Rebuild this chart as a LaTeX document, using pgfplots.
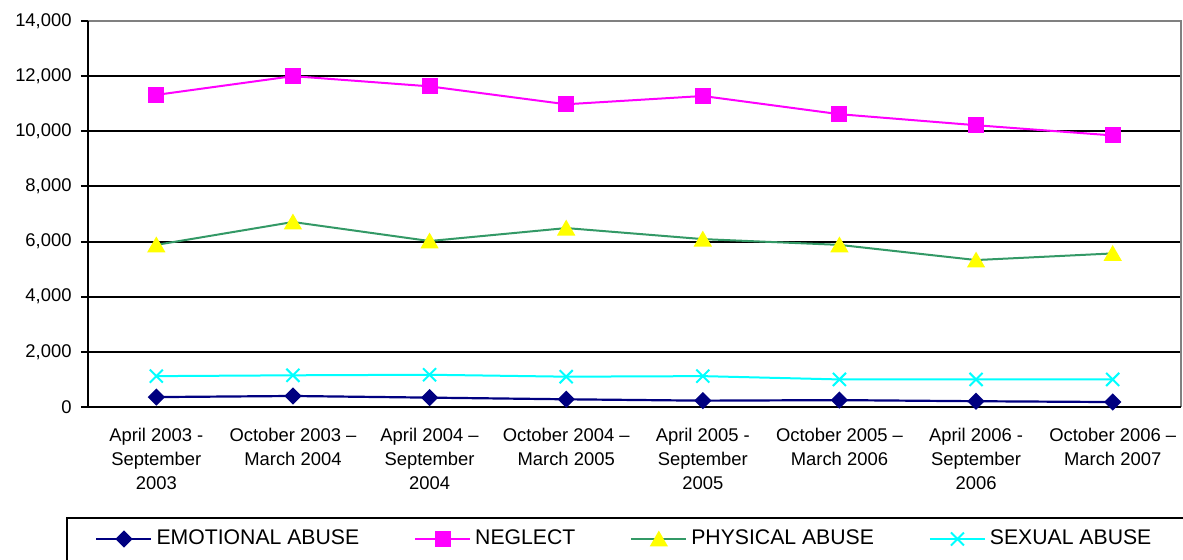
\documentclass[border=0pt]{standalone}
\usepackage{fontspec}
\setmainfont{Liberation Sans}
\usepackage{pgfplots}
\pgfplotsset{compat=1.18}
\definecolor{navyc}{RGB}{0,0,128}
\definecolor{greenc}{RGB}{51,153,102}
\definecolor{graybd}{RGB}{128,128,128}
\definecolor{magc}{RGB}{255,0,255}
\definecolor{cyanc}{RGB}{0,255,255}
\definecolor{yellowc}{RGB}{255,255,0}
\begin{document}
\begin{tikzpicture}
\begin{axis}[
  at={(0pt,0pt)}, anchor=south west,
  width=546.5pt, height=193pt, scale only axis,
  clip=false,
  xmin=-0.5, xmax=7.5, ymin=0, ymax=14000,
  xtick={0,1,2,3,4,5,6,7},
  xticklabels={{April 2003 -\\September\\2003},{October 2003 –\\March 2004},{April 2004 –\\September\\2004},{October 2004 –\\March 2005},{April 2005 -\\September\\2005},{October 2005 –\\March 2006},{April 2006 -\\September\\2006},{October 2006 –\\March 2007}},
  xticklabel style={align=center, font=\fontsize{9.2}{12}\selectfont, yshift=-3.5pt},
  minor xtick={-0.5,0.5,1.5,2.5,3.5,4.5,5.5,6.5,7.5},
  ytick={0,2000,4000,6000,8000,10000,12000,14000},
  yticklabel style={font=\fontsize{9.2}{11}\selectfont, xshift=-1.2pt},
  /pgf/number format/1000 sep={,},
  /pgf/number format/assume math mode=true,
  scaled y ticks=false,
  tick align=outside,
  xtick pos=bottom, ytick pos=left,
  major tick length=3.5pt, minor tick length=3pt,
  xtick style={draw=none},
  minor tick style={draw=black, line width=1pt},
  ytick style={draw=black, line width=1pt},
  axis line style={draw=none},
  ymajorgrids=true,
  major grid style={black, line width=1pt},
  legend columns=4,
  legend style={at={(axis description cs:0.0064,-0.342)}, anchor=west, draw=none, fill=none, inner sep=0pt,
    font=\fontsize{10.6}{12}\selectfont, nodes={inner sep=1pt},
    /tikz/every odd column/.append style={column sep=1pt},
    /tikz/every even column/.append style={column sep=26.5pt}},
  legend image code/.code={\draw[mark repeat=2,mark phase=2,#1] plot coordinates {(0pt,0pt) (13.75pt,0pt) (27.5pt,0pt)};},
]
\addplot[navyc, line width=1.1pt, mark=square*, mark size=2.5pt, mark options={solid, rotate=45, fill=navyc, draw=navyc}]
  coordinates {(0,360) (1,400) (2,340) (3,280) (4,230) (5,250) (6,210) (7,180)};
\addlegendentry{EMOTIONAL ABUSE}
\addplot[magc, line width=1pt, mark=square*, mark size=3.5pt, mark options={solid, fill=magc, draw=magc}]
  coordinates {(0,11320) (1,12000) (2,11630) (3,10980) (4,11280) (5,10620) (6,10220) (7,9850)};
\addlegendentry{NEGLECT}
\addplot[greenc, line width=1pt, mark=triangle*, mark size=4.3pt, mark options={solid, fill=yellowc, draw=yellowc, yshift=-1.07pt}]
  coordinates {(0,5880) (1,6710) (2,6020) (3,6490) (4,6090) (5,5880) (6,5330) (7,5570)};
\addlegendentry{PHYSICAL ABUSE}
\addplot[cyanc, line width=1pt, mark=x, mark size=4.6pt, mark options={solid, draw=cyanc, line width=1pt}]
  coordinates {(0,1120) (1,1150) (2,1170) (3,1100) (4,1120) (5,1000) (6,1000) (7,1000)};
\addlegendentry{SEXUAL ABUSE}
\draw[graybd, line width=1pt] (rel axis cs:0,1) -- (rel axis cs:1,1) -- (rel axis cs:1,0);
\draw[black, line width=1pt] (rel axis cs:0,1) -- (rel axis cs:0,0) -- (rel axis cs:1,0);
\draw[black, line width=1pt] (rel axis cs:1.01,-0.2876) -- (rel axis cs:-0.0192,-0.2876) -- (rel axis cs:-0.0192,-0.41);
\end{axis}
\pgfresetboundingbox
\useasboundingbox (-44pt,-76pt) rectangle (547.5pt,203.5pt);
\end{tikzpicture}
\end{document}
